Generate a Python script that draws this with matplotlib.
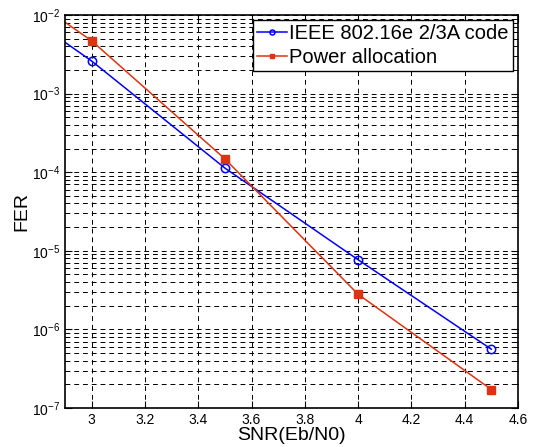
import matplotlib
matplotlib.use('Agg')
from matplotlib import pyplot as plt
from matplotlib.ticker import LogLocator, NullFormatter

plt.rcParams['font.family'] = ['Liberation Sans', 'DejaVu Sans']
plt.rcParams['mathtext.default'] = 'regular'

# data (first value is where the curve starts at the left edge)
snr = [2.9, 3.0, 3.5, 4.0, 4.5]
fer_ieee = [4.5e-3, 2.6e-3, 1.13e-4, 7.7e-6, 5.6e-7]
fer_power = [8.1e-3, 4.7e-3, 1.48e-4, 2.8e-6, 1.72e-7]
labels = ['IEEE 802.16e 2/3A code', 'Power allocation']
xticks = [3, 3.2, 3.4, 3.6, 3.8, 4, 4.2, 4.4, 4.6]
xticklabels = ['3', '3.2', '3.4', '3.6', '3.8', '4', '4.2', '4.4', '4.6']

fig = plt.figure(figsize=(5.34, 4.47), dpi=100)
ax = fig.add_axes([0.1217, 0.0872, 0.8483, 0.8792])

ax.semilogy(snr, fer_ieee, color='#0000ff', lw=1.1, marker='o', ms=6,
            mfc='none', mew=1.1, markevery=[1, 2, 3, 4], label=labels[0])
ax.semilogy(snr, fer_power, color='#dd3311', lw=1.1, marker='s', ms=6,
            mfc='#dd3311', mec='#dd3311', markevery=[1, 2, 3, 4], label=labels[1])

ax.set_xlim(2.9, 4.6)
ax.set_ylim(1e-7, 1e-2)
ax.set_xticks(xticks)
ax.set_xticklabels(xticklabels)
ax.yaxis.set_major_locator(LogLocator(base=10, numticks=10))
ax.yaxis.set_minor_locator(LogLocator(base=10, subs=range(2, 10), numticks=10))
ax.yaxis.set_minor_formatter(NullFormatter())

# matlab style grid
ax.grid(True, which='major', color='black', ls=(0, (5, 4)), lw=0.7)
ax.grid(True, which='minor', axis='y', color='black', ls=(0, (5, 4)), lw=0.7)
ax.set_axisbelow(True)
ax.tick_params(which='both', direction='in', top=True, right=True, labelsize=10)
ax.tick_params(which='major', length=5)
ax.tick_params(which='minor', length=3)
for s in ax.spines.values():
    s.set_linewidth(1.2)

ax.set_xlabel('SNR(Eb/N0)', fontsize=14, labelpad=0)
ax.set_ylabel('FER', fontsize=14, labelpad=1)

leg = ax.legend(loc='upper right', fontsize=14.5, fancybox=False, framealpha=1,
                edgecolor='black', handlelength=1.5, handletextpad=0.1,
                borderpad=0.2, labelspacing=0.25, borderaxespad=0.25,
                markerscale=0.6)
leg.get_frame().set_linewidth(1.0)

fig.savefig('out.png', dpi=100)
